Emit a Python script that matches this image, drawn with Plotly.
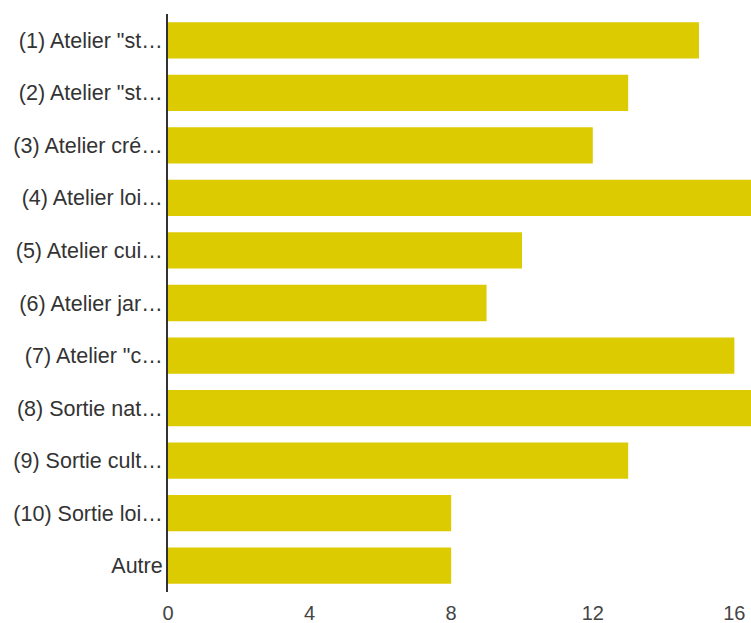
import plotly.graph_objects as go

categories = ['(1) Atelier "st…', '(2) Atelier "st…', '(3) Atelier cré…', '(4) Atelier loi…',
              '(5) Atelier cui…', '(6) Atelier jar…', '(7) Atelier "c…', '(8) Sortie nat…',
              '(9) Sortie cult…', '(10) Sortie loi…', 'Autre']
values = [15, 13, 12, 17, 10, 9, 16, 17, 13, 8, 8]
tick_vals = [0, 4, 8, 12, 16]

fig = go.Figure(go.Bar(
    x=values, y=categories, orientation='h',
    marker=dict(color='#DCCB00', line=dict(width=0)),
    hoverinfo='x+y'
))
fig.update_layout(
    width=751, height=623,
    margin=dict(l=168, r=0, t=14, b=31, pad=0),
    paper_bgcolor='white', plot_bgcolor='white',
    bargap=0.31,
    showlegend=False,
    font=dict(family='Liberation Sans, Arial, sans-serif'),
)
fig.update_yaxes(
    autorange='reversed', showgrid=False, showline=True, linecolor='#333333', linewidth=2,
    ticks='', ticklen=0, tickfont=dict(size=21.5, color='#333333'), ticklabelstandoff=-1,
    automargin=False,
)
fig.update_xaxes(
    range=[0, 16.47], tickvals=tick_vals, showgrid=False, zeroline=False, showline=False,
    ticks='', tickfont=dict(size=20, color='#444444'), ticklabelstandoff=7,
    automargin=False,
)
fig.write_html('out.html', config={'displayModeBar': False},
               post_script="document.body.style.margin='0';document.body.style.overflow='hidden';")
